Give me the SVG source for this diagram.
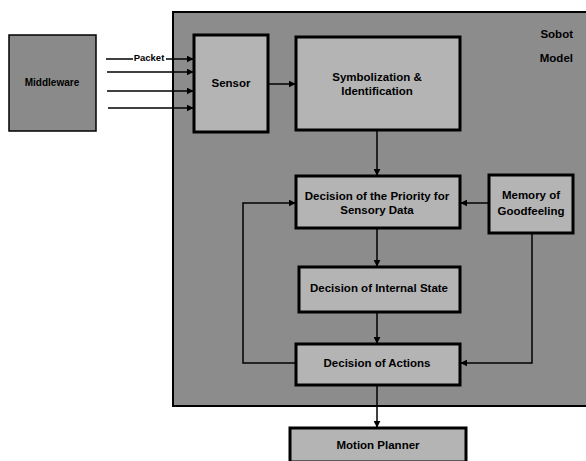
<svg xmlns="http://www.w3.org/2000/svg" width="586" height="461" viewBox="0 0 586 461">
<style>
  text { font-family: "Liberation Sans", Arial, sans-serif; font-weight: bold; font-size: 11.5px; fill: #000; text-anchor: middle; }
  .outer { fill: #8c8c8c; stroke: #000; stroke-width: 2; }
  .box { fill: #b4b4b4; stroke: #000; stroke-width: 3; }
  .mw { fill: #8a8a8a; stroke: #000; stroke-width: 1.5; }
  .conn { fill: none; stroke: #000; stroke-width: 1.5; marker-end: url(#ah); }
  .small { font-size: 10px; }
  .end { text-anchor: end; }
</style>
<defs>
  <marker id="ah" viewBox="0 0 10 10" refX="9" refY="5" markerWidth="7" markerHeight="7" markerUnits="userSpaceOnUse" orient="auto">
    <path d="M0,0 L10,5 L0,10 z" fill="#000"/>
  </marker>
</defs>
<rect width="586" height="461" fill="#fff"/>
<g id="robot-model">
  <rect class="outer" x="173" y="12" width="420" height="394"/>
  <text class="end" x="573" y="38">Sobot</text>
  <text class="end" x="573" y="62">Model</text>
</g>
<g id="middleware">
  <rect class="mw" x="9" y="35" width="87" height="96"/>
  <text class="small" x="52" y="86">Middleware</text>
</g>
<g id="sensor">
  <rect class="box" x="194" y="35" width="74" height="97"/>
  <text x="231" y="87">Sensor</text>
</g>
<g id="symbolization">
  <rect class="box" x="296" y="37" width="164" height="93"/>
  <text x="377" y="81">Symbolization &amp;</text>
  <text x="377" y="95">Identification</text>
</g>
<g id="priority">
  <rect class="box" x="296" y="176" width="164" height="52"/>
  <text x="377" y="200">Decision of the Priority for</text>
  <text x="377" y="214">Sensory Data</text>
</g>
<g id="memory">
  <rect class="box" x="489" y="175" width="84" height="58"/>
  <text x="531" y="199">Memory of</text>
  <text x="531" y="215">Goodfeeling</text>
</g>
<g id="internal-state">
  <rect class="box" x="299" y="267" width="161" height="45"/>
  <text x="379" y="292">Decision of Internal State</text>
</g>
<g id="actions">
  <rect class="box" x="296" y="344" width="164" height="41"/>
  <text x="377" y="367">Decision of Actions</text>
</g>
<g id="motion-planner">
  <rect class="box" x="290" y="428" width="176" height="34"/>
  <text x="378" y="449">Motion Planner</text>
</g>
<g id="connectors">
  <path class="conn" d="M106,59 H193"/>
  <path class="conn" d="M107,72 H193"/>
  <path class="conn" d="M107,91 H193"/>
  <path class="conn" d="M108,108 H193"/>
  <path class="conn" d="M269,84 H295"/>
  <path class="conn" d="M377,131 V175"/>
  <path class="conn" d="M488,203 H461"/>
  <path class="conn" d="M377,229 V266"/>
  <path class="conn" d="M377,313 V343"/>
  <path class="conn" d="M295,363 H243 V203 H295"/>
  <path class="conn" d="M532,234 V363 H461"/>
  <path class="conn" d="M377,386 V427"/>
  <rect x="133" y="53" width="33" height="9" fill="#fff"/>
  <text class="small" x="149" y="61" style="font-size:9.5px">Packet</text>
</g>
</svg>
